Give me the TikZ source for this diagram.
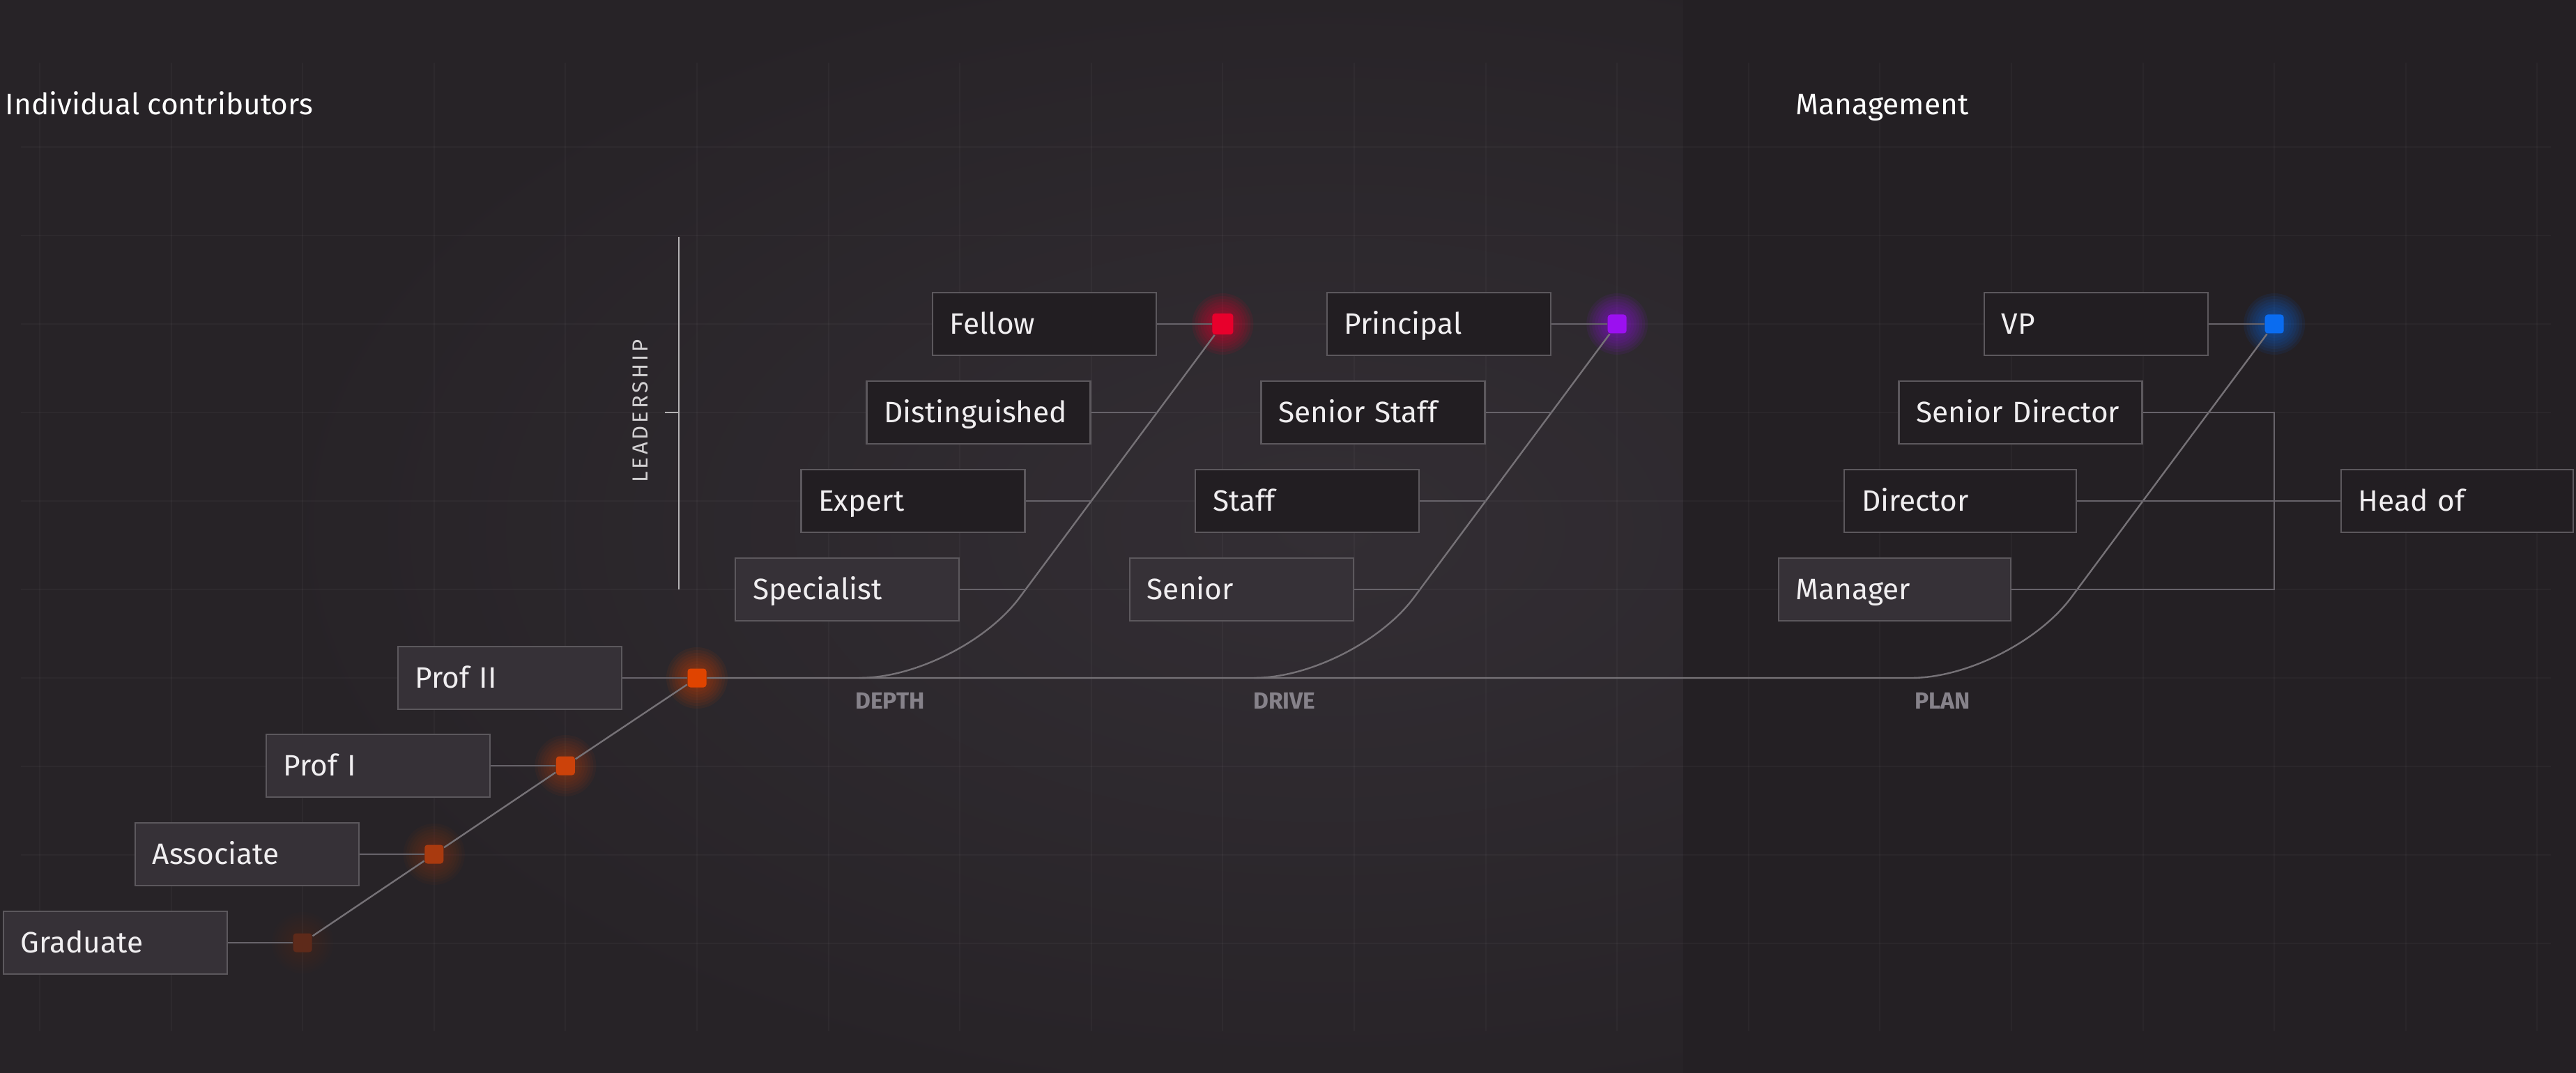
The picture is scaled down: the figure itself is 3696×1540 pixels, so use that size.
\documentclass[tikz,border=0pt]{standalone}
\usepackage{fontspec}
\setmainfont{Fira Sans}
\newfontfamily\headfont{Fira Sans}

\definecolor{bgdark}{HTML}{242024}
\definecolor{bgleft}{HTML}{272327}
\definecolor{bglight}{HTML}{332E34}
\definecolor{boxdark}{HTML}{221E22}
\definecolor{boxlight}{HTML}{363137}
\definecolor{boxline}{HTML}{5C585D}
\definecolor{trackgray}{HTML}{767277}
\definecolor{linkgray}{HTML}{67636A}
\definecolor{labelgray}{HTML}{86828A}
\definecolor{textwhite}{HTML}{F0EEF0}
\definecolor{dotgrad}{HTML}{5E2A1A}
\definecolor{dotassoc}{HTML}{A93A0F}
\definecolor{dotprofi}{HTML}{CC420A}
\definecolor{dotprofii}{HTML}{E04400}
\definecolor{dotfellow}{HTML}{E8002C}
\definecolor{dotprincipal}{HTML}{9B10F0}
\definecolor{dotvp}{HTML}{0A6CF0}

\begin{document}
\begin{tikzpicture}
	[x = 0.25pt, y = -0.25pt,
	rank/.style={draw=boxline, line width=0.6pt, fill=boxdark, text=textwhite,
		minimum height=22.5pt, text width=#1, inner xsep=6.25pt, align=left,
		text height=7.3pt, text depth=0pt,
		font=\fontsize{10.6}{12}\selectfont},
	rank/.default=67.75pt,
	entry/.style={rank=#1, fill=boxlight},
	entry/.default=67.75pt,
	dot/.style={rounded corners=1pt, minimum size=6.75pt, inner sep=0pt},
	track/.style={trackgray, line width=0.6pt},
	link/.style={linkgray, line width=0.6pt},
	pathlabel/.style={labelgray, font=\fontsize{8.4}{9}\selectfont\bfseries}]
	
	% Background
	\fill[bgdark] (0, 0) rectangle (3696, 1540);
	\useasboundingbox (0, 0) rectangle (3696, 1540);
	\begin{scope}
		\clip (0, 0) rectangle (2414.5, 1540);
		\fill[bgleft] (0, 0) rectangle (2414.5, 1540);
		\shade[inner color=bglight, outer color=bgleft] (1900, 760) ellipse [x radius=380pt, y radius=210pt];
	\end{scope}
	
	% Draw grid
	\foreach \x in {57, 245.6, ..., 3650}
		\draw[white, opacity=0.03, line width=0.5pt] (\x, 90) -- (\x, 1480);
	\foreach \y in {211, 338, ..., 1360}
		\draw[white, opacity=0.03, line width=0.5pt] (30, \y) -- (3660, \y);
	
	% Titles
	\node[anchor=base west, inner sep=0pt, text=white, font=\headfont\fontsize{10.6}{12}\selectfont]
		(ictitle) at (7, 165) {Individual contributors};
	\node[anchor=base west, inner sep=0pt, text=white, font=\headfont\fontsize{10.6}{12}\selectfont]
		(mgmttitle) at (2576, 165) {Management};
	
	% Leadership axis
	\coordinate (leadtop) at (974, 340);
	\coordinate (leadbot) at (974, 846);
	\coordinate (leadmid) at (974, 592);
	\coordinate (leadtick) at (954, 592);
	\draw[textwhite!75!black, line width=0.6pt] (leadtop) -- (leadbot);
	\draw[textwhite!75!black, line width=0.6pt] (leadtick) -- (leadmid);
	\node[rotate=90, text=textwhite!88!black, font=\fontsize{7.8}{9}\selectfont\addfontfeatures{LetterSpace=12}]
		(leadlabel) at (919, 590) {LEADERSHIP};
	
	% Marker positions
	\coordinate (gradpt) at (434.2, 1353);
	\coordinate (assocpt) at (622.8, 1226);
	\coordinate (profipt) at (811.4, 1099);
	\coordinate (profiipt) at (1000, 973);
	\coordinate (fellowpt) at (1754.4, 465);
	\coordinate (principalpt) at (2320.2, 465);
	\coordinate (vppt) at (3263.2, 465);
	
	% Glow behind markers
	\foreach \p/\c/\o in {gradpt/dotgrad/0.05, assocpt/dotassoc/0.05, profipt/dotprofi/0.06,
		profiipt/dotprofii/0.07, fellowpt/dotfellow/0.09, principalpt/dotprincipal/0.08, vppt/dotvp/0.08}
		\foreach \r in {11, 10, ..., 4}
			\fill[\c, opacity=\o] (\p) circle[radius=\r pt];
	
	% Individual contributor ladder
	\node[entry, anchor=east] (graduate) at (327, 1353) {Graduate};
	\node[entry, anchor=east] (associate) at (516, 1226) {Associate};
	\node[entry, anchor=east] (profi) at (704, 1099) {Prof I};
	\node[entry, anchor=east] (profii) at (893, 973) {Prof II};
	
	\node[dot, fill=dotgrad] (graddot) at (gradpt) {};
	\node[dot, fill=dotassoc] (assocdot) at (assocpt) {};
	\node[dot, fill=dotprofi] (profidot) at (profipt) {};
	\node[dot, fill=dotprofii] (profiidot) at (profiipt) {};
	
	% Depth track
	\node[entry, anchor=east] (specialist) at (1377.2, 846) {Specialist};
	\node[rank, anchor=east] (expert) at (1471.5, 719) {Expert};
	\node[rank, anchor=east] (distinguished) at (1565.8, 592) {Distinguished};
	\node[rank, anchor=east] (fellow) at (1660.1, 465) {Fellow};
	\node[dot, minimum size=7.5pt, fill=dotfellow] (fellowdot) at (fellowpt) {};
	
	% Drive track
	\node[entry, anchor=east] (senior) at (1943, 846) {Senior};
	\node[rank, anchor=east] (staff) at (2037.3, 719) {Staff};
	\node[rank, anchor=east] (seniorstaff) at (2131.6, 592) {Senior Staff};
	\node[rank, anchor=east] (principal) at (2225.9, 465) {Principal};
	\node[dot, fill=dotprincipal] (principaldot) at (principalpt) {};
	
	% Plan track
	\node[entry=70.75pt, anchor=east] (manager) at (2886, 846) {Manager};
	\node[rank=70.75pt, anchor=east] (director) at (2980.3, 719) {Director};
	\node[rank=74.75pt, anchor=east] (seniordirector) at (3074.6, 592) {Senior Director};
	\node[rank, anchor=east] (vp) at (3168.9, 465) {VP};
	\node[rank=70.75pt, anchor=west] (headof) at (3357.5, 719) {Head of};
	\node[dot, fill=dotvp] (vpdot) at (vppt) {};
	
	% Track corners and joins
	\coordinate (depthstart) at (1235.8, 973);
	\coordinate (depthcorner) at (1377.2, 973);
	\coordinate (depth3) at (1471.5, 846);
	\coordinate (depth2) at (1565.8, 719);
	\coordinate (depth1) at (1660.1, 592);
	\coordinate (drivestart) at (1801.6, 973);
	\coordinate (drivecorner) at (1943, 973);
	\coordinate (drive3) at (2037.3, 846);
	\coordinate (drive2) at (2131.6, 719);
	\coordinate (drive1) at (2225.9, 592);
	\coordinate (plancorner) at (2886, 973);
	\coordinate (sdjoin) at (3263.2, 592);
	\coordinate (mgrjoin) at (3263.2, 846);
	
	% Draw ladder connectors
	\draw[link] (graduate) -- (graddot);
	\draw[link] (associate) -- (assocdot);
	\draw[link] (profi) -- (profidot);
	\draw[link] (profii) -- (profiidot);
	\draw[track] (graddot) -- (assocdot) -- (profidot) -- (profiidot);
	
	% Draw main track and branches
	\draw[track, rounded corners=36pt] (profiidot) -- (plancorner) -- (vpdot);
	\draw[track, rounded corners=36pt] (depthstart) -- (depthcorner) -- (fellowdot);
	\draw[track, rounded corners=36pt] (drivestart) -- (drivecorner) -- (principaldot);
	
	\draw[link] (specialist) -- (depth3);
	\draw[link] (expert) -- (depth2);
	\draw[link] (distinguished) -- (depth1);
	\draw[link] (fellow) -- (fellowdot);
	
	\draw[link] (senior) -- (drive3);
	\draw[link] (staff) -- (drive2);
	\draw[link] (seniorstaff) -- (drive1);
	\draw[link] (principal) -- (principaldot);
	
	\draw[link] (vp) -- (vpdot);
	\draw[link] (seniordirector) -- (sdjoin) -- (mgrjoin) -- (manager);
	\draw[link] (director) -- (headof);
	
	% Track labels
	\node[pathlabel] (depthlabel) at (1277, 1006) {DEPTH};
	\node[pathlabel] (drivelabel) at (1843, 1006) {DRIVE};
	\node[pathlabel] (planlabel) at (2787, 1006) {PLAN};
	
\end{tikzpicture}
\end{document}
